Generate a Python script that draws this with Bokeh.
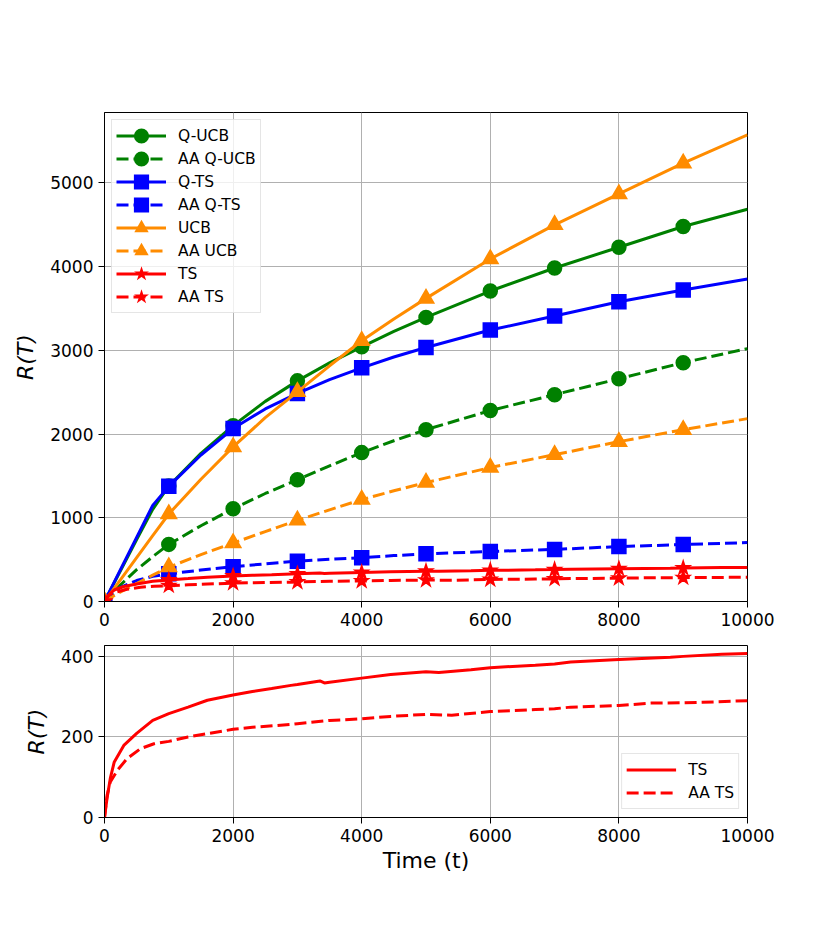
from bokeh.plotting import figure
from bokeh.layouts import column
from bokeh.models import Legend, LegendItem, FixedTicker, Range1d
from bokeh.embed import file_html
from bokeh.resources import INLINE

# ---------------- data ----------------
t_main = [0, 250, 500, 750, 1000, 1500, 2000, 2500, 3000, 3500, 4000, 4500,
          5000, 6000, 7000, 8000, 9000, 10000]
q_ucb = [0, 370, 740, 1100, 1380, 1770, 2100, 2390, 2635, 2850, 3042, 3225,
         3393, 3708, 3983, 4231, 4478, 4685]
aa_q_ucb = [0, 200, 380, 535, 682, 905, 1108, 1290, 1455, 1620, 1778, 1920,
            2052, 2280, 2470, 2660, 2852, 3020]
q_ts = [0, 383, 766, 1148, 1375, 1750, 2065, 2300, 2485, 2650, 2791, 2920,
        3034, 3242, 3409, 3580, 3720, 3852]
aa_q_ts = [0, 170, 250, 300, 330, 375, 415, 450, 482, 505, 523, 548,
           570, 597, 622, 656, 680, 704]
ucb = [0, 262, 524, 786, 1045, 1460, 1846, 2195, 2504, 2815, 3114, 3375,
       3620, 4091, 4498, 4868, 5235, 5574]
aa_ucb = [0, 115, 215, 315, 411, 560, 698, 835, 969, 1095, 1217, 1322,
          1420, 1600, 1754, 1909, 2052, 2184]

t_ts = [0, 40, 90, 150, 300, 500, 750, 1000, 1300, 1600, 2000, 2300, 2600,
        2900, 3000, 3350, 3420, 3500, 4000, 4450, 5000, 5200, 5700, 6000,
        6700, 7000, 7250, 8000, 8800, 9000, 9600, 10000]
ts = [0, 48, 97, 137, 179, 209, 241, 258, 274, 291, 304, 313, 320,
      328, 330, 339, 334, 336, 346, 355, 362, 360, 367, 372,
      378, 381, 386, 392, 398, 400, 405, 407]
t_aa_ts = [0, 40, 90, 200, 350, 560, 770, 1000, 1300, 1600, 2000, 2300, 2900,
           3000, 3500, 4000, 4450, 5000, 5400, 6000, 6700, 7000, 7250, 8000,
           8500, 9000, 9300, 10000]
aa_ts = [0, 55, 88, 117, 146, 171, 183, 189, 200, 208, 219, 224, 231,
         233, 241, 245, 251, 256, 254, 263, 268, 270, 274, 278,
         284, 285, 286, 290]

x_ticks = [0, 2000, 4000, 6000, 8000, 10000]
y_ticks_top = [0, 1000, 2000, 3000, 4000, 5000]
y_ticks_bot = [0, 200, 400]
mark_every = 1000

FONT = "DejaVu Sans"
GREEN, BLUE, ORANGE, RED = "#008000", "#0000ff", "#ff8c00", "#ff0000"
DASH = "12 5"


def style(p, xt, yt):
    for ax in (p.xaxis[0], p.yaxis[0]):
        ax.axis_line_color = "black"
        ax.major_tick_line_color = "black"
        ax.major_tick_out = 6
        ax.major_tick_in = 0
        ax.minor_tick_line_color = None
        ax.major_label_text_font = FONT
        ax.major_label_text_font_size = "17px"
        ax.major_label_text_color = "black"
        ax.axis_label_text_font = FONT
        ax.axis_label_text_font_size = "22px"
        ax.axis_label_text_color = "black"
    p.xaxis[0].ticker = FixedTicker(ticks=xt)
    p.yaxis[0].ticker = FixedTicker(ticks=yt)
    p.grid.grid_line_color = "#b0b0b0"
    p.grid.grid_line_width = 1
    p.outline_line_color = "black"
    p.outline_line_width = 1
    p.outline_line_alpha = 1


def marks(t, v):
    mx = [a for a in t if a % mark_every == 0 and a < t[-1]]
    my = [b for a, b in zip(t, v) if a % mark_every == 0 and a < t[-1]]
    return mx, my


top = figure(frame_width=643, frame_height=489,
             x_range=Range1d(0, 10000), y_range=Range1d(0, 5840),
             output_backend="svg", toolbar_location=None,
             min_border_left=104, min_border_right=60,
             min_border_top=112, min_border_bottom=36)
style(top, x_ticks, y_ticks_top)
top.yaxis[0].axis_label = "R(T)"
top.yaxis[0].axis_label_text_font_style = "italic"
top.yaxis[0].axis_label_standoff = 9

# marker: (shape, core size, outline width) -> visible size ~ same in plot and legend
series = [
    ("Q-UCB", t_main, q_ucb, GREEN, "solid", "circle", 9.5, 6),
    ("AA Q-UCB", t_main, aa_q_ucb, GREEN, DASH, "circle", 9.5, 6),
    ("Q-TS", t_main, q_ts, BLUE, "solid", "square", 9.5, 6),
    ("AA Q-TS", t_main, aa_q_ts, BLUE, DASH, "square", 9.5, 6),
    ("UCB", t_main, ucb, ORANGE, "solid", "triangle", 13, 3),
    ("AA UCB", t_main, aa_ucb, ORANGE, DASH, "triangle", 13, 3),
    ("TS", t_ts, ts, RED, "solid", "star", 12.5, 2),
    ("AA TS", t_aa_ts, aa_ts, RED, DASH, "star", 12.5, 2),
]
items = []
for name, t, v, c, dash, mk, sz, lw in series:
    ln = top.line(t, v, line_color=c, line_width=3, line_dash=dash)
    mx, my = marks(t, v)
    sc = top.scatter(mx, my, marker=mk, size=sz, fill_color=c, line_color=c,
                     line_width=lw, line_join="miter")
    items.append(LegendItem(label=name, renderers=[ln, sc]))

leg = Legend(items=items, location="top_left", margin=7, padding=4,
             glyph_width=50, glyph_height=23, spacing=0, label_standoff=12,
             label_text_font=FONT, label_text_font_size="15.5px",
             label_text_color="black",
             border_line_color="#cccccc", border_line_width=1,
             background_fill_alpha=0.8)
top.add_layout(leg)

bot = figure(frame_width=643, frame_height=172,
             x_range=Range1d(0, 10000), y_range=Range1d(0, 427),
             output_backend="svg", toolbar_location=None,
             min_border_left=104, min_border_right=60,
             min_border_top=8, min_border_bottom=70)
style(bot, x_ticks, y_ticks_bot)
bot.yaxis[0].axis_label = "R(T)"
bot.yaxis[0].axis_label_text_font_style = "italic"
bot.yaxis[0].axis_label_standoff = 9
bot.xaxis[0].axis_label = "Time (t)"
bot.xaxis[0].axis_label_text_font_style = "normal"
bot.xaxis[0].axis_label_standoff = 3

l1 = bot.line(t_ts, ts, line_color=RED, line_width=3)
l2 = bot.line(t_aa_ts, aa_ts, line_color=RED, line_width=3, line_dash=DASH)
leg2 = Legend(items=[LegendItem(label="TS", renderers=[l1]),
                     LegendItem(label="AA TS", renderers=[l2])],
              location="bottom_right", margin=8, padding=4,
              glyph_width=50, glyph_height=23, spacing=0, label_standoff=12,
              label_text_font=FONT, label_text_font_size="15.5px",
              label_text_color="black",
              border_line_color="#cccccc", border_line_width=1,
              background_fill_alpha=0.8)
bot.add_layout(leg2)

layout = column(top, bot, spacing=0)
open("out.html", "w").write(file_html(layout, INLINE))
